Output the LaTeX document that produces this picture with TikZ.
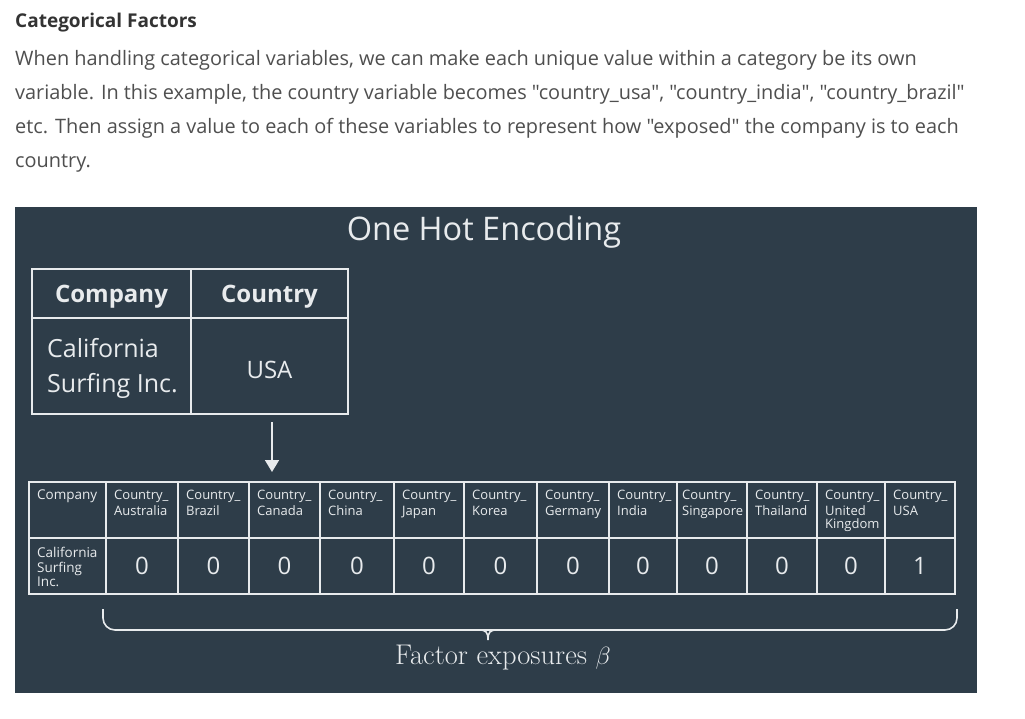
\documentclass[tikz,border=0pt]{standalone}
\usepackage{fontspec}
\newfontfamily\osans{Open Sans}
\usetikzlibrary{positioning,arrows.meta}
\definecolor{panel}{HTML}{2E3D49}
\definecolor{chalk}{HTML}{E8EBED}
\definecolor{ink}{HTML}{333333}
\definecolor{body}{HTML}{4F4F4F}
\tikzset{
  para/.style={anchor=base west, inner sep=0pt, text=body, font=\osans\fontsize{19.9}{24}\selectfont},
  cell/.style={draw=chalk, line width=1.8pt, inner sep=0pt, outer sep=0pt, text=chalk},
  hcell/.style={cell, minimum height=56},
  vcell/.style={cell, minimum height=56, font=\osans\fontsize{24}{28}\selectfont},
  htext/.style={anchor=north west, inner sep=0pt, align=left, text=chalk, font=\osans\fontsize{13}{16}\selectfont},
  bigtext/.style={text=chalk, font=\osans\fontsize{24}{28}\selectfont}
}
\begin{document}
\begin{tikzpicture}[x=1pt,y=-1pt]
  \useasboundingbox (0,0) rectangle (1025,718);
  \fill[white] (0,0) rectangle (1025,718);
  \fill[panel] (15,207) rectangle (977,693);

  % text above the panel
  \node[anchor=base west, inner sep=0pt, text=ink, font=\osans\bfseries\fontsize{19}{23}\selectfont] (heading) at (15,27) {Categorical Factors};
  \node[para] (line1) at (15,65) {When handling categorical variables, we can make each unique value within a category be its own};
  \node[para] (line2) at (15,99) {variable. In this example, the country variable becomes "country\_usa", "country\_india", "country\_brazil"};
  \node[para] (line3) at (15,133) {etc. Then assign a value to each of these variables to represent how "exposed" the company is to each};
  \node[para] (line4) at (15,167) {country.};

  \node[text=chalk, font=\osans\fontsize{32.5}{38}\selectfont] (title) at (484,232) {One Hot Encoding};

  % original table
  \node[cell, minimum width=159, minimum height=49, font=\osans\bfseries\fontsize{24}{28}\selectfont, text height=17pt, text depth=0pt] (compcell) at (111.5,293.5) {Company};
  \node[cell, minimum width=157, minimum height=49, font=\osans\bfseries\fontsize{24}{28}\selectfont, text height=17pt, text depth=0pt, right=0pt of compcell] (countrycell) {Country};
  \node[cell, minimum width=159, minimum height=96, below=0pt of compcell] (namecell) {};
  \node[cell, minimum width=157, minimum height=96, below=0pt of countrycell, font=\osans\fontsize{24}{28}\selectfont, text height=25pt, text depth=0pt] (usacell) {USA};
  \node[anchor=west, inner sep=0pt, align=left, text=chalk, font=\osans\fontsize{25}{35}\selectfont] (nametext) at ([xshift=15pt,yshift=-2pt]namecell.west) {California\\Surfing Inc.};

  \coordinate (tip) at (272,472);
  \draw[chalk, line width=1.6pt, -{Triangle[width=14pt,length=12pt]}] ([yshift=-8pt]tip |- usacell.south) -- (tip);

  % encoded table, header row
  \node[hcell, minimum width=77] (hcomp) at (67.5,510) {};
  \node[hcell, minimum width=72, right=0pt of hcomp] (haus) {};
  \node[hcell, minimum width=71, right=0pt of haus] (hbra) {};
  \node[hcell, minimum width=71, right=0pt of hbra] (hcan) {};
  \node[hcell, minimum width=74, right=0pt of hcan] (hchn) {};
  \node[hcell, minimum width=70, right=0pt of hchn] (hjpn) {};
  \node[hcell, minimum width=73, right=0pt of hjpn] (hkor) {};
  \node[hcell, minimum width=72, right=0pt of hkor] (hger) {};
  \node[hcell, minimum width=68, right=0pt of hger] (hind) {};
  \node[hcell, minimum width=70, right=0pt of hind] (hsgp) {};
  \node[hcell, minimum width=70, right=0pt of hsgp] (htha) {};
  \node[hcell, minimum width=68, right=0pt of htha] (hgbr) {};
  \node[hcell, minimum width=70, right=0pt of hgbr] (husa) {};

  \node[htext, font=\osans\fontsize{13.5}{16}\selectfont] (tcomp) at ([xshift=8pt,yshift=-8pt]hcomp.north west) {Company};
  \node[htext] (taus) at ([xshift=8pt,yshift=-8pt]haus.north west) {Country\_\\Australia};
  \node[htext] (tbra) at ([xshift=8pt,yshift=-8pt]hbra.north west) {Country\_\\Brazil};
  \node[htext] (tcan) at ([xshift=8pt,yshift=-8pt]hcan.north west) {Country\_\\Canada};
  \node[htext] (tchn) at ([xshift=8pt,yshift=-8pt]hchn.north west) {Country\_\\China};
  \node[htext] (tjpn) at ([xshift=8pt,yshift=-8pt]hjpn.north west) {Country\_\\Japan};
  \node[htext] (tkor) at ([xshift=8pt,yshift=-8pt]hkor.north west) {Country\_\\Korea};
  \node[htext] (tger) at ([xshift=8pt,yshift=-8pt]hger.north west) {Country\_\\Germany};
  \node[htext] (tind) at ([xshift=8pt,yshift=-8pt]hind.north west) {Country\_\\India};
  \node[htext] (tsgp) at ([xshift=5pt,yshift=-8pt]hsgp.north west) {Country\_\\Singapore};
  \node[htext] (ttha) at ([xshift=8pt,yshift=-8pt]htha.north west) {Country\_\\Thailand};
  \node[htext] (tgbr) at ([xshift=8pt,yshift=-8pt]hgbr.north west) {Country\_\\United\\[-3pt]Kingdom};
  \node[htext] (tusa) at ([xshift=8pt,yshift=-8pt]husa.north west) {Country\_\\USA};

  % encoded table, value row
  \node[vcell, minimum width=77, below=0pt of hcomp] (vcomp) {};
  \node[vcell, minimum width=72, below=0pt of haus] (vaus) {0};
  \node[vcell, minimum width=71, below=0pt of hbra] (vbra) {0};
  \node[vcell, minimum width=71, below=0pt of hcan] (vcan) {0};
  \node[vcell, minimum width=74, below=0pt of hchn] (vchn) {0};
  \node[vcell, minimum width=70, below=0pt of hjpn] (vjpn) {0};
  \node[vcell, minimum width=73, below=0pt of hkor] (vkor) {0};
  \node[vcell, minimum width=72, below=0pt of hger] (vger) {0};
  \node[vcell, minimum width=68, below=0pt of hind] (vind) {0};
  \node[vcell, minimum width=70, below=0pt of hsgp] (vsgp) {0};
  \node[vcell, minimum width=70, below=0pt of htha] (vtha) {0};
  \node[vcell, minimum width=68, below=0pt of hgbr] (vgbr) {0};
  \node[vcell, minimum width=70, below=0pt of husa] (vusa) {1};
  \node[htext, font=\osans\fontsize{13.5}{14.5}\selectfont] (vname) at ([xshift=8pt,yshift=-9pt]vcomp.north west) {California\\Surfing\\Inc.};

  % brace
  \draw[chalk, line width=1.6pt, rounded corners=12pt] (103,609) -- (103,630) -- (957,630) -- (957,609);
  \draw[chalk, line width=1.6pt] (479,630) .. controls (486,630) and (488,632) .. (488,640) .. controls (488,632) and (490,630) .. (497,630);
  \node[anchor=base, text=chalk, font=\fontsize{28.5}{32}\selectfont] (beta) at (503,664) {Factor exposures $\beta$};
\end{tikzpicture}
\end{document}
